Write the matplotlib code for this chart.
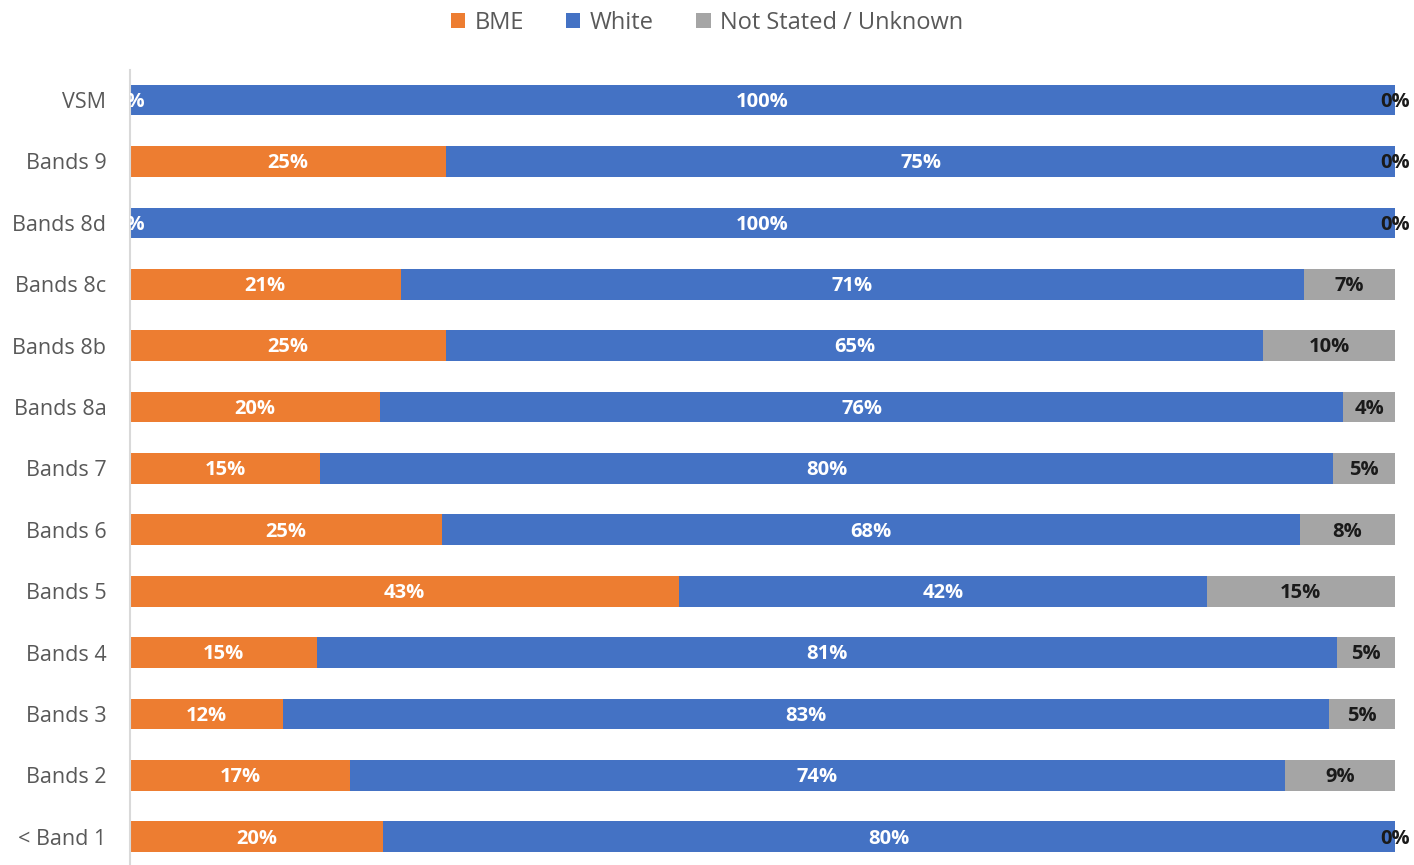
import numpy as np
import matplotlib.pyplot as plt

# rows listed bottom to top
bands = ['< Band 1', 'Bands 2', 'Bands 3', 'Bands 4', 'Bands 5', 'Bands 6', 'Bands 7',
         'Bands 8a', 'Bands 8b', 'Bands 8c', 'Bands 8d', 'Bands 9', 'VSM']
bme = [20.0, 17.4, 12.1, 14.8, 43.4, 24.7, 15.0, 19.8, 25.0, 21.4, 0.0, 25.0, 0.0]
white = [80.0, 73.9, 82.7, 80.6, 41.7, 67.8, 80.1, 76.1, 64.6, 71.4, 100.0, 75.0, 100.0]
not_stated = [0.0, 8.7, 5.2, 4.6, 14.9, 7.5, 4.9, 4.1, 10.4, 7.2, 0.0, 0.0, 0.0]

series = [('BME', bme, '#ED7D31', 'white'),
          ('White', white, '#4472C4', 'white'),
          ('Not Stated / Unknown', not_stated, '#A5A5A5', '#1a1a1a')]

plt.rcParams['font.family'] = ['Open Sans', 'DejaVu Sans']

fig = plt.figure(figsize=(14.14, 8.65), dpi=100)
ax = fig.add_axes([130 / 1414, 0.0, 1265 / 1414, 1 - 70 / 865])

y = np.arange(len(bands))
left = np.zeros(len(bands))
for k, (name, vals, col, tcol) in enumerate(series):
    vals = np.array(vals)
    ax.barh(y, vals, left=left, height=0.5, color=col, label=name)
    for i, v in enumerate(vals):
        ax.text(left[i] + v / 2, y[i] - 0.03, f'{v:.0f}%', ha='center', va='center',
                color=tcol, fontsize=14.5, fontweight='bold', clip_on=(k == 0))
    left = left + vals

ax.set_xlim(0, 100)
ax.set_ylim(-0.46, 12.49)
ax.set_yticks(y)
ax.set_yticklabels(bands, fontsize=15.5, color='#595959')
ax.tick_params(axis='y', length=0, pad=17)
ax.set_xticks([])
for s in ['top', 'right', 'bottom']:
    ax.spines[s].set_visible(False)
ax.spines['left'].set_color('#D9D9D9')
ax.spines['left'].set_linewidth(1.5)

fig.legend(loc='upper center', bbox_to_anchor=(0.5, 1.012), ncol=3, frameon=False,
           fontsize=17, labelcolor='#595959', handlelength=0.6, handleheight=0.6,
           handletextpad=0.4, columnspacing=1.8)

fig.savefig('out.png', dpi=100)
